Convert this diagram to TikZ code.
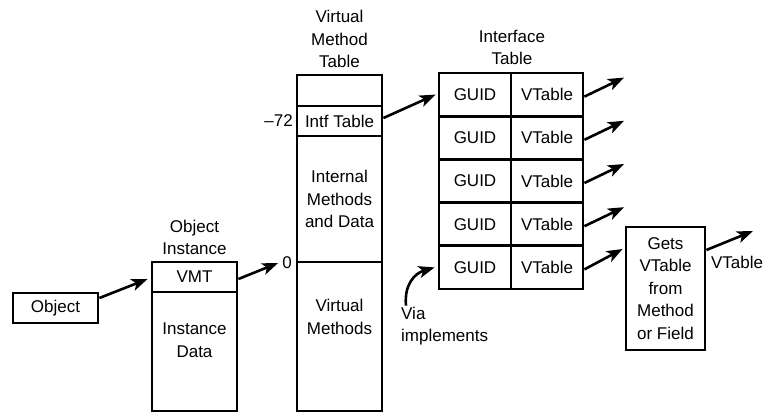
\documentclass[tikz,border=0pt]{standalone}
\usepackage{fontspec}
\setmainfont{Liberation Sans}
\usetikzlibrary{arrows.meta}
\begin{document}
\begin{tikzpicture}[x=1pt,y=-1pt,
  txt/.style={font=\fontsize{17}{22.5}\selectfont, align=center, inner sep=0pt},
  cell/.style={draw, line width=2.8pt, inner sep=0pt, font=\fontsize{17}{22.5}\selectfont, align=center},
  arr/.style={line width=2.6pt, -{Stealth[length=16pt,width=12pt,inset=4pt]}}]
\useasboundingbox (0,0) rectangle (763,413);

% Object
\node[cell, minimum width=85pt, minimum height=30pt] (obj) at (55.5,308) {Object};

% Object instance
\node[txt] (oilbl) at (194.5,237.5) {Object\\Instance};
\node[cell, minimum width=85pt, minimum height=30pt] (vmt) at (194.5,277) {VMT};
\node[cell, minimum width=85pt, minimum height=119pt] (idata) at (194.5,351.5) {};
\node[txt] (idatat) at (194.5,340) {Instance\\Data};

% Virtual method table
\node[txt] (vmtlbl) at (339.5,39) {Virtual\\Method\\Table};
\node[cell, minimum width=85pt, minimum height=31pt] (vtop) at (339.5,90.5) {};
\node[cell, minimum width=85pt, minimum height=30pt] (intf) at (339.5,121) {Intf Table};
\node[cell, minimum width=85pt, minimum height=126pt] (internal) at (339.5,199) {Internal\\Methods\\and Data};
\node[cell, minimum width=85pt, minimum height=149pt] (vmeth) at (339.5,336.5) {};
\node[txt] (vmetht) at (339.5,317) {Virtual\\Methods};
\node[txt, anchor=east] (m72) at (293,121) {--72};
\node[txt] (zero) at (287,263) {0};

% Interface table
\node[txt] (itlbl) at (512,47.5) {Interface\\Table};
\foreach \i in {1,...,5} {
  \pgfmathsetmacro\yc{73+(\i-0.5)*43.2}
  \node[cell, minimum width=72pt, minimum height=43.2pt] (g\i) at (475,\yc) {GUID};
  \node[cell, minimum width=72pt, minimum height=43.2pt] (v\i) at (547,\yc) {VTable};
  \coordinate (t\i) at (624,\yc-17);
}
\foreach \i in {1,...,4} {
  \draw[arr] ([yshift=-2pt]v\i.east) -- (t\i);
}

% Gets box
\node[cell, minimum width=79pt, minimum height=123pt] (gets) at (665.5,288.5) {Gets\\VTable\\from\\Method\\or Field};
\coordinate (gend) at (753,231);
\node[txt] (vtlbl) at (737,262) {VTable};

% Via implements
\node[txt, align=left, anchor=west] (via) at (401,326) {Via\\implements};

% Connectors
\draw[arr] ([yshift=10pt]obj.east) -- ([xshift=-3pt,yshift=-2pt]vmt.west);
\draw[arr] ([yshift=-2pt]vmt.east) -- ([xshift=-4pt]zero.west);
\draw[arr] ([yshift=3pt]intf.east) -- ([xshift=-2pt]g1.west);
\draw[arr] ([yshift=-2pt]v5.east) -- ([xshift=-2pt,yshift=39.5pt]gets.west);
\draw[arr] ([yshift=38.5pt]gets.east) -- (gend);
\draw[arr] ([xshift=5pt,yshift=1pt]via.north west) .. controls +(-2,-21) and +(-20,6) .. ([xshift=-3pt]g5.west);
\end{tikzpicture}
\end{document}
